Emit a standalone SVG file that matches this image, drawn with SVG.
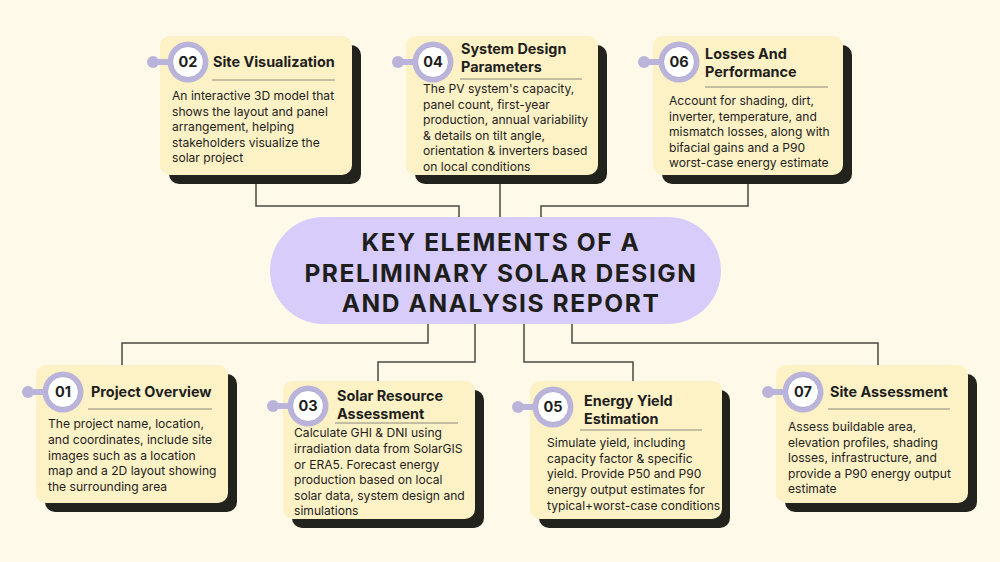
<svg xmlns="http://www.w3.org/2000/svg" width="1000" height="562" viewBox="0 0 1000 562">
<defs>
<style>
.bg{fill:#FEF9E8}
.shadow{fill:#23231D}
.card{fill:#FDF1C6}
.ring{fill:#BAB4DA}
.inner{fill:#FFFFFF;stroke:#9E98C6;stroke-width:0.8}
.num{font-family:Inter,"Liberation Sans",sans-serif;font-weight:700;font-size:14.5px;fill:#1E1E1C;text-anchor:middle}
.title{font-family:Inter,"Liberation Sans",sans-serif;font-weight:700;font-size:14.4px;fill:#1E1E1C}
.body{font-family:Inter,"Liberation Sans",sans-serif;font-size:12.1px;fill:#1E1E1C}
.rule{stroke:#8C8A80;stroke-width:1}
.conn{fill:none;stroke:#4A4A42;stroke-width:1.5}
.pill{fill:#D8CCFB}
.head{font-family:Inter,"Liberation Sans",sans-serif;font-weight:700;font-size:24.5px;fill:#1E1E1C;text-anchor:middle;letter-spacing:1.6px}
</style>
<g id="badge">
<circle cx="-35" cy="0" r="6" class="ring"/>
<rect x="-35" y="-3" width="20" height="6" class="ring"/>
<circle cx="0" cy="0" r="20.5" class="ring"/>
<circle cx="0" cy="0" r="15.5" class="inner"/>
</g>
</defs>
<rect class="bg" x="0" y="0" width="1000" height="562"/>

<g id="connectors">
<path class="conn" d="M256,183 V206 H459 V217"/>
<path class="conn" d="M500,183 V217"/>
<path class="conn" d="M748,183 V206 H541 V217"/>
<path class="conn" d="M428,324 V343 H122 V365"/>
<path class="conn" d="M475,324 V362 H378 V381"/>
<path class="conn" d="M524,324 V362 H633 V381"/>
<path class="conn" d="M572,324 V343 H878 V365"/>
</g>

<g id="center">
<rect class="pill" x="270" y="217" width="451" height="107" rx="53.5"/>
<text class="head" x="501" y="251">KEY ELEMENTS OF A</text>
<text class="head" x="501" y="282">PRELIMINARY SOLAR DESIGN</text>
<text class="head" x="501" y="312">AND ANALYSIS REPORT</text>
</g>

<g id="node02">
<rect class="shadow" x="169" y="45" width="192" height="139" rx="10"/>
<rect class="card" x="160" y="36" width="192" height="139" rx="10"/>
<use href="#badge" x="188" y="62"/>
<text class="num" x="188" y="67.2">02</text>
<text class="title" x="213" y="67">Site Visualization</text>
<line class="rule" x1="212" y1="80" x2="335" y2="80"/>
<text class="body"><tspan x="172" y="100">An interactive 3D model that</tspan><tspan x="172" y="115.5">shows the layout and panel</tspan><tspan x="172" y="131">arrangement, helping</tspan><tspan x="172" y="146.5">stakeholders visualize the</tspan><tspan x="172" y="162">solar project</tspan></text>
</g>

<g id="node04">
<rect class="shadow" x="415" y="45" width="192" height="139" rx="10"/>
<rect class="card" x="406" y="36" width="192" height="139" rx="10"/>
<use href="#badge" x="433" y="62"/>
<text class="num" x="433" y="67.2">04</text>
<text class="title"><tspan x="461" y="54">System Design</tspan><tspan x="461" y="72">Parameters</tspan></text>
<line class="rule" x1="460" y1="79" x2="582" y2="79"/>
<text class="body"><tspan x="423" y="93">The PV system's capacity,</tspan><tspan x="423" y="108.5">panel count, first-year</tspan><tspan x="423" y="124">production, annual variability</tspan><tspan x="423" y="139.5">&amp; details on tilt angle,</tspan><tspan x="423" y="155">orientation &amp; inverters based</tspan><tspan x="423" y="170.5">on local conditions</tspan></text>
</g>

<g id="node06">
<rect class="shadow" x="662" y="45" width="190" height="139" rx="10"/>
<rect class="card" x="653" y="36" width="190" height="139" rx="10"/>
<use href="#badge" x="679" y="62"/>
<text class="num" x="679" y="67.2">06</text>
<text class="title"><tspan x="705" y="59">Losses And</tspan><tspan x="705" y="77">Performance</tspan></text>
<line class="rule" x1="705" y1="87" x2="828" y2="87"/>
<text class="body"><tspan x="669" y="105">Account for shading, dirt,</tspan><tspan x="669" y="120.5">inverter, temperature, and</tspan><tspan x="669" y="136">mismatch losses, along with</tspan><tspan x="669" y="151.5">bifacial gains and a P90</tspan><tspan x="669" y="167">worst-case energy estimate</tspan></text>
</g>

<g id="node01">
<rect class="shadow" x="45" y="374" width="192" height="138" rx="10"/>
<rect class="card" x="36" y="365" width="192" height="138" rx="10"/>
<use href="#badge" x="63" y="392"/>
<text class="num" x="63" y="397.2">01</text>
<text class="title" x="91" y="397">Project Overview</text>
<line class="rule" x1="88" y1="409" x2="212" y2="409"/>
<text class="body"><tspan x="48" y="428">The project name, location,</tspan><tspan x="48" y="444">and coordinates, include site</tspan><tspan x="48" y="459.5">images such as a location</tspan><tspan x="48" y="475">map and a 2D layout showing</tspan><tspan x="48" y="491">the surrounding area</tspan></text>
</g>

<g id="node03">
<rect class="shadow" x="292" y="390" width="192" height="138" rx="10"/>
<rect class="card" x="283" y="381" width="192" height="138" rx="10"/>
<use href="#badge" x="308" y="406"/>
<text class="num" x="308" y="411.2">03</text>
<text class="title"><tspan x="337" y="401">Solar Resource</tspan><tspan x="337" y="419">Assessment</tspan></text>
<line class="rule" x1="335" y1="423" x2="458" y2="423"/>
<text class="body"><tspan x="294" y="437">Calculate GHI &amp; DNI using</tspan><tspan x="294" y="453">irradiation data from SolarGIS</tspan><tspan x="294" y="468.5">or ERA5. Forecast energy</tspan><tspan x="294" y="484">production based on local</tspan><tspan x="294" y="499.5">solar data, system design and</tspan><tspan x="294" y="515">simulations</tspan></text>
</g>

<g id="node05">
<rect class="shadow" x="539" y="390" width="191" height="138" rx="10"/>
<rect class="card" x="530" y="381" width="192" height="138" rx="10"/>
<use href="#badge" x="553" y="407"/>
<text class="num" x="553" y="412.2">05</text>
<text class="title"><tspan x="584" y="406">Energy Yield</tspan><tspan x="584" y="424">Estimation</tspan></text>
<line class="rule" x1="580" y1="430" x2="702" y2="430"/>
<text class="body"><tspan x="547" y="447">Simulate yield, including</tspan><tspan x="547" y="462.5">capacity factor &amp; specific</tspan><tspan x="547" y="478">yield. Provide P50 and P90</tspan><tspan x="547" y="494">energy output estimates for</tspan><tspan x="547" y="509.5">typical+worst-case conditions</tspan></text>
</g>

<g id="node07">
<rect class="shadow" x="785" y="374" width="192" height="138" rx="10"/>
<rect class="card" x="776" y="365" width="192" height="138" rx="10"/>
<use href="#badge" x="803" y="392"/>
<text class="num" x="803" y="397.2">07</text>
<text class="title" x="830" y="397">Site Assessment</text>
<line class="rule" x1="828" y1="409" x2="950" y2="409"/>
<text class="body"><tspan x="788" y="431">Assess buildable area,</tspan><tspan x="788" y="446.5">elevation profiles, shading</tspan><tspan x="788" y="462">losses, infrastructure, and</tspan><tspan x="788" y="477.5">provide a P90 energy output</tspan><tspan x="788" y="493">estimate</tspan></text>
</g>
</svg>
